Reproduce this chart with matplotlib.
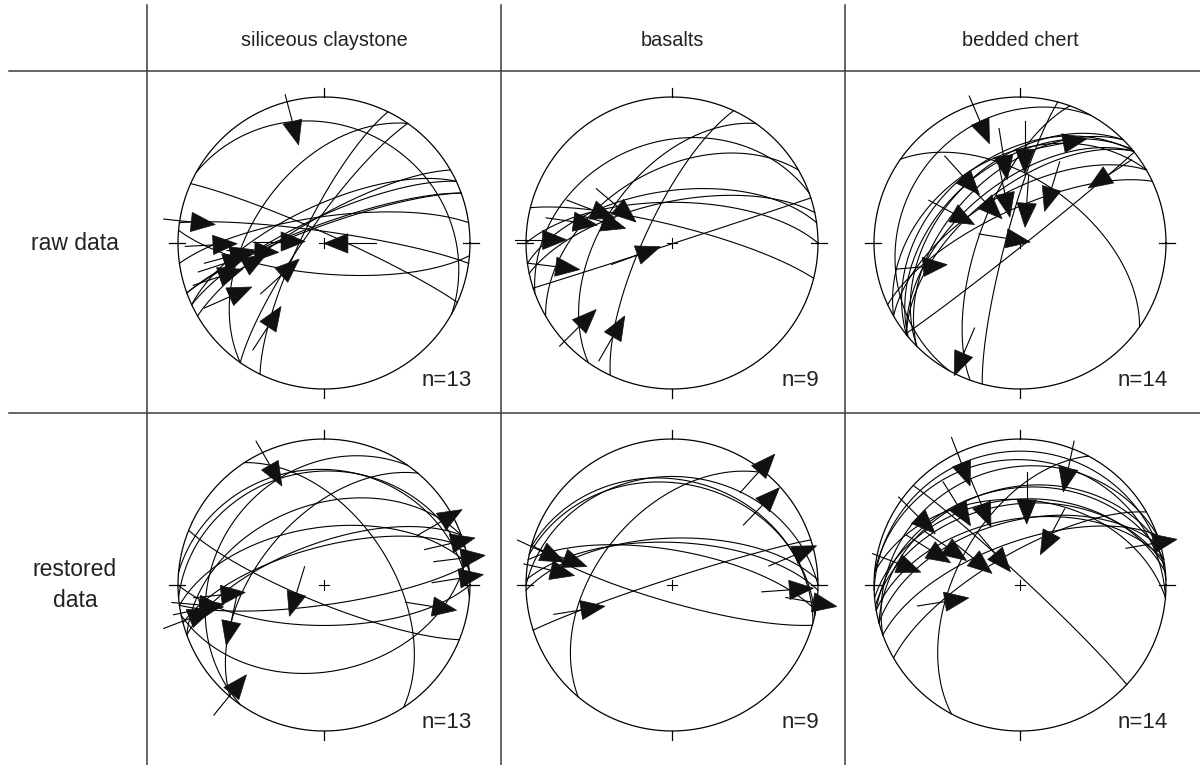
import numpy as np
import matplotlib.pyplot as plt
from matplotlib.patches import Polygon

plt.rcParams['font.family'] = ['Liberation Sans', 'DejaVu Sans']

# ---------------------------------------------------------------------------
# Fault-slip data.  For every fault: azimuth of one horizontal (strike) end of
# the plane, trend/plunge of the striation, and azimuth of the plotted slip arrow.
# ---------------------------------------------------------------------------
lithologies = ["siliceous claystone", "basalts", "bedded chert"]
states = ["raw data", "restored\ndata"]

# siliceous claystone, raw
clay_raw_strike = [299, 278, 262, 250, 114, 250, 245, 240, 245, 215, 215, 206, 275]
clay_raw_trend = [345.4, 279, 269, 272, 91, 263, 258.4, 253.4, 252.1, 233, 240.3, 213.8, 262]
clay_raw_plunge = [15.2, 8.8, 25, 66, 76.7, 50.5, 31.2, 42.8, 25.8, 60, 26.6, 31.6, 36]
clay_raw_slip = [165, 96, 87, 90, 270, 92, 72, 61, 72, 48, 66, 33, 75]

# basalts, raw
bas_raw_strike = [250, 262, 284, 258, 270, 240, 252, 215, 205]
bas_raw_trend = [271.4, 282.2, 292.6, 287, 303.8, 258.5, 250.8, 228, 212.3]
bas_raw_plunge = [12.4, 31.6, 40.9, 48.8, 53, 19.9, 69.7, 15.6, 25]
bas_raw_slip = [90, 98, 111, 106, 130, 97, 70, 45, 30]

# bedded chert, raw
chert_raw_strike = [209, 225, 230, 240, 51.5, 231, 231, 240, 245, 125, 225, 195, 231, 200]
chert_raw_trend = [341.8, 349.2, 3, 23.5, 52.4, 319.5, 319.7, 343, 9.6, 30, 294, 289, 256.2, 207]
chert_raw_plunge = [13.5, 39.2, 35.9, 26.4, 24.6, 40, 59.6, 61, 67.5, 54.4, 48.6, 82, 32.3, 16.1]
chert_raw_slip = [157, 171, 180, 79, 237, 138, 135, 168, 184, 197, 118, 99, 85, 203]

# siliceous claystone, restored
clay_res_strike = [327, 265, 275, 262, 258, 270, 250, 255, 250, 292, 220, 215, 262]
clay_res_trend = [335.7, 61.6, 71.9, 79, 87.2, 101.2, 264.5, 260.9, 256, 253.3, 248.4, 220.5, 259]
clay_res_plunge = [10.9, 9.6, 9, 4.7, 7.8, 25, 30, 14.8, 5.8, 74, 32.2, 2.6, 15]
clay_res_slip = [150, 60, 77, 83, 81, 99, 84, 95, 69, 197, 192, 39, 78]

# basalts, restored
bas_res_strike = [40, 270, 285, 100, 102, 106, 272, 268, 252]
bas_res_trend = [37.5, 48.6, 76.3, 92.4, 97, 284.4, 283.9, 277, 254.6]
bas_res_plunge = [2.8, 18.3, 14.8, 20.6, 3, 9.4, 25, 17.6, 35.7]
bas_res_slip = [42, 44, 67, 86, 100, 115, 110, 103, 81]

# bedded chert, restored
chert_res_strike = [268, 95, 265, 255, 275, 250, 60, 80, 255, 260, 250, 313, 262, 208]
chert_res_trend = [334.3, 22.5, 334.4, 322, 4.5, 303.9, 31.5, 72.7, 297.6, 291.3, 299.8, 321.8, 280, 257.5]
chert_res_plunge = [8.4, 14.6, 39, 31.4, 41.2, 17.2, 55.9, 4.9, 42.8, 34.3, 59.8, 67.5, 16.5, 46.3]
chert_res_slip = [159, 192, 157, 148, 180, 135, 208, 80, 125, 122, 129, 140, 111, 81]

panels = [
    [(clay_raw_strike, clay_raw_trend, clay_raw_plunge, clay_raw_slip),
     (bas_raw_strike, bas_raw_trend, bas_raw_plunge, bas_raw_slip),
     (chert_raw_strike, chert_raw_trend, chert_raw_plunge, chert_raw_slip)],
    [(clay_res_strike, clay_res_trend, clay_res_plunge, clay_res_slip),
     (bas_res_strike, bas_res_trend, bas_res_plunge, bas_res_slip),
     (chert_res_strike, chert_res_trend, chert_res_plunge, chert_res_slip)],
]


# ---------------------------------------------------------------------------
# Equal-area, lower-hemisphere projection helpers
# ---------------------------------------------------------------------------
def line_vec(trend, plunge):
    t, p = np.radians(trend), np.radians(plunge)
    return np.array([np.sin(t) * np.cos(p), np.cos(t) * np.cos(p), np.sin(p)])


def project(v):
    v = np.asarray(v, dtype=float)
    if v.ndim == 1:
        v = v[:, None]
    v = np.where(v[2] < 0, -v, v)
    k = 1.0 / np.sqrt(1.0 + v[2])
    return v[0] * k, v[1] * k


def great_circle(strike, trend, plunge, n=200):
    s = line_vec(strike, 0.0)
    lin = line_vec(trend, plunge)
    pole = np.cross(s, lin)
    pole /= np.linalg.norm(pole)
    w = np.cross(pole, s)
    w /= np.linalg.norm(w)
    if w[2] < 0:
        w = -w
    th = np.linspace(0, np.pi, n)
    pts = np.outer(s, np.cos(th)) + np.outer(w, np.sin(th))
    return project(pts)


# ---------------------------------------------------------------------------
# Figure and table frame
# ---------------------------------------------------------------------------
W, H = 1200, 765
fig = plt.figure(figsize=(W / 100, H / 100), dpi=100)
frame = fig.add_axes([0, 0, 1, 1])
frame.set_xlim(0, W)
frame.set_ylim(H, 0)
frame.axis('off')

grid_col = '#3c3c3c'
col_edges = [147, 501, 845]
row_edges = [71, 413]
for xe in col_edges:
    frame.plot([xe, xe], [5, H], color=grid_col, lw=1.1)
for ye in row_edges:
    frame.plot([9, W], [ye, ye], color=grid_col, lw=1.1)

centers_x = [324, 672, 1020]
centers_y = [243, 585]
R = 146.0
text_col = '#222222'

for xc, name in zip(centers_x, lithologies):
    frame.text(xc, 40, name, ha='center', va='center', fontsize=14.3, color=text_col)
for yc, name in zip(centers_y, states):
    frame.text(75, yc, name, ha='center', va='center', fontsize=16.5,
               color=text_col, linespacing=1.45)

# ---------------------------------------------------------------------------
# Stereonets
# ---------------------------------------------------------------------------
tail_len, head_len, head_hw = 0.19, 0.165, 0.066
lw = 0.8
ext = 1.32

for ri, yc in enumerate(centers_y):
    for ci, xc in enumerate(centers_x):
        strikes, trends, plunges, slips = panels[ri][ci]
        ax = fig.add_axes([(xc - ext * R) / W, 1 - (yc + ext * R) / H,
                           2 * ext * R / W, 2 * ext * R / H])
        ax.set_xlim(-ext, ext)
        ax.set_ylim(-ext, ext)
        ax.set_aspect('equal')
        ax.axis('off')

        # primitive circle, cardinal ticks and centre cross
        t = np.linspace(0, 2 * np.pi, 400)
        ax.plot(np.cos(t), np.sin(t), color='black', lw=0.9)
        ax.plot([0, 0], [1.0, 1.06], color='black', lw=0.9)
        ax.plot([0, 0], [-1.0, -1.06], color='black', lw=0.9)
        ax.plot([0.95, 1.06], [0, 0], color='black', lw=0.9)
        ax.plot([-0.95, -1.06], [0, 0], color='black', lw=0.9)
        ax.plot([-0.035, 0.035], [0, 0], color='black', lw=0.8)
        ax.plot([0, 0], [-0.035, 0.035], color='black', lw=0.8)

        # fault planes
        for s, tr, pl in zip(strikes, trends, plunges):
            gx, gy = great_circle(s, tr, pl)
            ax.plot(gx, gy, color='black', lw=lw)

        # striations with slip arrows
        for tr, pl, az in zip(trends, plunges, slips):
            px, py = project(line_vec(tr, pl))
            px, py = float(px[0]), float(py[0])
            u = np.array([np.sin(np.radians(az)), np.cos(np.radians(az))])
            perp = np.array([u[1], -u[0]])
            p = np.array([px, py])
            tail = p - tail_len * u
            ax.plot([tail[0], p[0]], [tail[1], p[1]], color='black', lw=lw,
                    clip_on=False)
            tri = np.array([p + head_hw * perp, p - head_hw * perp, p + head_len * u])
            ax.add_patch(Polygon(tri, closed=True, facecolor='#111111',
                                 edgecolor='#111111', lw=0.5, clip_on=False,
                                 zorder=3))

        ax.text(1.01, -0.94, f"n={len(strikes)}", ha='right', va='center',
                fontsize=16, color=text_col)

fig.savefig('out.png', dpi=100)
